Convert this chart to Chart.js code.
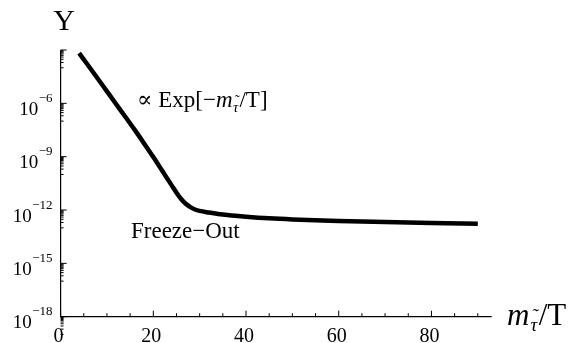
<!DOCTYPE html>
<html>
<head>
<meta charset="utf-8">
<script src="https://cdn.jsdelivr.net/npm/chart.js@4.4.1/dist/chart.umd.min.js"></script>
<style>
    html, body { margin: 0; padding: 0; background: #fff; }
    #wrap { width: 575px; height: 343px; position: relative; }
</style>
</head>
<body>
<div id="wrap"><canvas id="yieldChart"></canvas></div>
<script>
// x = m/T, y = relic abundance Y
const xValues = [4, 6, 8, 10, 12, 14, 16, 18, 20, 22, 24, 25, 26, 27, 28, 29, 30, 32, 34, 36, 40, 45, 50, 60, 70, 80, 90];
const yValues = [6.6e-4, 1.3e-4, 2.5e-5, 4.7e-6, 8.9e-7, 1.7e-7, 3.2e-8, 5.6e-9, 9.5e-10, 1.5e-10, 2.35e-11, 9.5e-12,
                 4.2e-12, 2.25e-12, 1.45e-12, 1.07e-12, 8.9e-13, 7.2e-13, 6.0e-13, 5.2e-13, 4.2e-13, 3.4e-13,
                 2.95e-13, 2.45e-13, 2.1e-13, 1.85e-13, 1.7e-13];

const xTicks = [0, 20, 40, 60, 80];
const xMinorTicks = [5, 10, 15, 25, 30, 35, 45, 50, 55, 65, 70, 75, 85, 90];
const yTickExponents = [-18, -15, -12, -9, -6];
const yMajorExponents = [-18, -15, -12, -9, -6, -3];

const SERIF = '"Liberation Serif", "DejaVu Serif", serif';

// draw "10^n" right-aligned, centred on the tick
function drawPower(ctx, exp, right, y) {
    const base = "10";
    const sup = "\u2212" + Math.abs(exp);
    ctx.font = "19px " + SERIF;
    const wb = ctx.measureText(base).width;
    ctx.font = "13px " + SERIF;
    const ws = ctx.measureText(sup).width;
    const left = right - wb - ws;
    ctx.textAlign = "left";
    ctx.textBaseline = "alphabetic";
    ctx.font = "19px " + SERIF;
    ctx.fillText(base, left, y + 11.5);
    ctx.font = "13px " + SERIF;
    ctx.fillText(sup, left + wb + 0.5, y - 1.5);
}

// draw a sequence of pieces left to right; a piece is
// [text, font, dy, extraSpace, tilde]
function drawPieces(ctx, x, y, pieces) {
    ctx.textAlign = "left";
    ctx.textBaseline = "alphabetic";
    pieces.forEach(p => {
        ctx.font = p[1];
        ctx.fillText(p[0], x, y + (p[2] || 0));
        const w = ctx.measureText(p[0]).width;
        if (p[4]) {
            // small tilde above the glyph
            ctx.fillText("\u02dc", x + w * 0.15, y + (p[2] || 0) - p[4]);
        }
        x += w + (p[3] || 0);
    });
}

const axesPlugin = {
    id: "mmaAxes",
    afterDraw(chart) {
        const ctx = chart.ctx;
        const xs = chart.scales.x;
        const ys = chart.scales.y;
        const left = xs.getPixelForValue(0);
        const bottom = ys.getPixelForValue(1e-18);
        const top = ys.getPixelForValue(1e-3);
        const right = xs.getPixelForValue(93);

        ctx.save();
        ctx.strokeStyle = "#000";
        ctx.fillStyle = "#000";
        ctx.lineWidth = 1.2;

        // axis lines
        ctx.beginPath();
        ctx.moveTo(left, top);
        ctx.lineTo(left, bottom);
        ctx.lineTo(right, bottom);
        ctx.stroke();

        // x ticks point inward
        ctx.lineWidth = 1;
        ctx.beginPath();
        xTicks.forEach(v => {
            const px = xs.getPixelForValue(v);
            ctx.moveTo(px, bottom);
            ctx.lineTo(px, bottom - 6);
        });
        xMinorTicks.forEach(v => {
            const px = xs.getPixelForValue(v);
            ctx.moveTo(px, bottom);
            ctx.lineTo(px, bottom - 3.5);
        });
        ctx.stroke();

        // y ticks: major every 3 decades, minor 2..9 of the decade below
        ctx.beginPath();
        yMajorExponents.forEach(e => {
            const py = ys.getPixelForValue(Math.pow(10, e));
            ctx.moveTo(left, py);
            ctx.lineTo(left + 6, py);
            for (let m = 2; m <= 9; m++) {
                const pm = ys.getPixelForValue(m * Math.pow(10, e - 1));
                ctx.moveTo(left, pm);
                ctx.lineTo(left + 3, pm);
            }
            const p1 = ys.getPixelForValue(Math.pow(10, e - 1));
            ctx.moveTo(left, p1);
            ctx.lineTo(left + 3, p1);
        });
        ctx.stroke();

        // tick labels
        ctx.font = "20px " + SERIF;
        ctx.textAlign = "center";
        ctx.textBaseline = "alphabetic";
        xTicks.forEach(v => {
            ctx.fillText(String(v), xs.getPixelForValue(v) - 2, 341.5);
        });
        yTickExponents.forEach(e => {
            drawPower(ctx, e, 52, ys.getPixelForValue(Math.pow(10, e)));
        });

        // axis titles
        ctx.font = "30px " + SERIF;
        ctx.textAlign = "center";
        ctx.fillText("Y", 64, 30);
        drawPieces(ctx, 507, 325, [
            ["m", "italic 31px " + SERIF, 0, 1],
            ["\u03c4", "italic 19px " + SERIF, 6, 1.5, 9],
            ["/T", "31px " + SERIF, 0, 0]
        ]);

        // annotations
        drawPieces(ctx, 137, 107, [
            ["\u221d Exp[\u2212", "23px " + SERIF, 0, 0],
            ["m", "italic 23px " + SERIF, 0, 0.5],
            ["\u03c4", "italic 15px " + SERIF, 5, 1, 7],
            ["/T]", "23px " + SERIF, 0, 0]
        ]);
        drawPieces(ctx, 131, 238, [
            ["Freeze\u2212Out", "23px " + SERIF, 0, 0]
        ]);

        ctx.restore();
    }
};

const ctx = document.getElementById("yieldChart").getContext("2d");
new Chart(ctx, {
    type: "line",
    data: {
        datasets: [{
            data: xValues.map((x, i) => ({ x: x, y: yValues[i] })),
            borderColor: "#000",
            borderWidth: 4.5,
            pointRadius: 0,
            fill: false,
            cubicInterpolationMode: "monotone",
            borderCapStyle: "butt"
        }]
    },
    options: {
        responsive: true,
        maintainAspectRatio: false,
        animation: false,
        layout: { padding: { left: 60.6, right: 575 - 491.7, top: 50, bottom: 343 - 316.7 } },
        plugins: { legend: { display: false }, tooltip: { enabled: false } },
        scales: {
            x: { type: "linear", min: 0, max: 93, display: false },
            y: { type: "logarithmic", min: 1e-18, max: 1e-3, display: false }
        }
    },
    plugins: [axesPlugin]
});
</script>
</body>
</html>
